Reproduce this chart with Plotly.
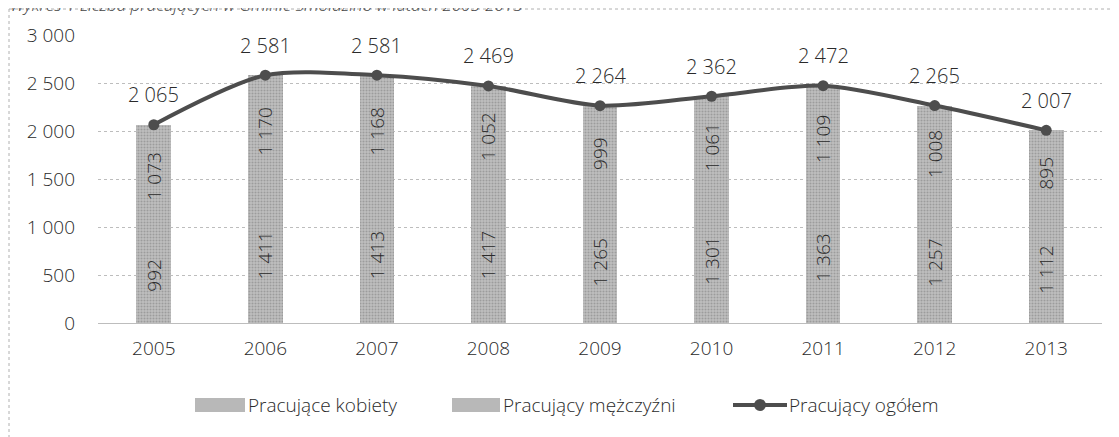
import plotly.graph_objects as go

years = ["2005", "2006", "2007", "2008", "2009", "2010", "2011", "2012", "2013"]
kobiety = [992, 1411, 1413, 1417, 1265, 1301, 1363, 1257, 1112]
mezczyzni = [1073, 1170, 1168, 1052, 999, 1061, 1109, 1008, 895]
ogolem = [2065, 2581, 2581, 2469, 2264, 2362, 2472, 2265, 2007]

series_names = ["Pracujące kobiety", "Pracujący mężczyźni", "Pracujący ogółem"]
title_text = "Wykres 1 Liczba pracujących w Gminie Smołdzino w latach 2005-2013"

FONT = "Open Sans"
TXT = "#2a2a2a"
BAR_BG = "#c0c0c0"
BAR_FG = "#777777"
LINE_C = "#4d4d4d"


def fmt(v):
    return f"{v:,}".replace(",", " ")


# the page body adds an 8px offset; work in page pixels and convert
OFF = 8
PAGE_W, PAGE_H = 1119, 437
W, H = PAGE_W - OFF, PAGE_H - OFF
# plot area in page pixels
PL, PR, PT, PB = 98, 1102, 35, 323
L, R, T, B = PL - OFF, PR - OFF, PT - OFF, PB - OFF


def px(x):
    return (x - PL) / (PR - PL)


def py(y):
    return (PB - y) / (PB - PT)


pattern = dict(shape=".", fgcolor=BAR_FG, bgcolor=BAR_BG, size=3, solidity=0.4)
bar_font = dict(family=FONT, size=19, color=TXT, weight=300)

fig = go.Figure()
fig.add_trace(go.Bar(
    x=years, y=kobiety, name=series_names[0],
    marker=dict(color=BAR_BG, pattern=pattern, line=dict(width=0)),
    text=[fmt(v) for v in kobiety], textposition="inside",
    insidetextanchor="middle", textangle=-90, constraintext="none",
    textfont=bar_font, width=0.31, showlegend=False,
))
fig.add_trace(go.Bar(
    x=years, y=mezczyzni, name=series_names[1],
    marker=dict(color=BAR_BG, pattern=pattern, line=dict(width=0)),
    text=[fmt(v) for v in mezczyzni], textposition="inside",
    insidetextanchor="middle", textangle=-90, constraintext="none",
    textfont=bar_font, width=0.31, showlegend=False,
))
fig.add_trace(go.Scatter(
    x=years, y=ogolem, name=series_names[2], mode="lines+markers",
    line=dict(color=LINE_C, width=4, shape="spline", smoothing=0.8),
    marker=dict(color=LINE_C, size=11),
    showlegend=False,
))

annotations = []
# category axis: annotations are placed by category index
for i, v in enumerate(ogolem):
    annotations.append(dict(
        x=i, y=v, xref="x", yref="y", text=fmt(v), showarrow=False,
        yshift=30, font=dict(family=FONT, size=20, color=TXT, weight=300),
    ))

# title (cut at top edge as in the reference)
annotations.append(dict(
    x=px(OFF), y=py(OFF - 4), xref="paper", yref="paper", xanchor="left",
    yanchor="middle", text=title_text, showarrow=False,
    font=dict(family=FONT, size=17, color="#444", style="italic"),
))

# hand-made legend (page pixels)
shapes = []
leg_y0, leg_y1, leg_yc = 398, 412, 405
for (x0, x1) in [(195, 245), (452, 500)]:
    shapes.append(dict(type="rect", xref="paper", yref="paper",
                       x0=px(x0), x1=px(x1), y0=py(leg_y1), y1=py(leg_y0),
                       fillcolor="#b8b8b8", line=dict(width=0)))
shapes.append(dict(type="line", xref="paper", yref="paper",
                   x0=px(733), x1=px(787), y0=py(leg_yc), y1=py(leg_yc),
                   line=dict(color=LINE_C, width=4)))
shapes.append(dict(type="circle", xref="paper", yref="paper",
                   x0=px(754), x1=px(766), y0=py(leg_yc + 6), y1=py(leg_yc - 6),
                   fillcolor=LINE_C, line=dict(width=0)))
for xt, name in zip([246, 501, 787], series_names):
    annotations.append(dict(
        x=px(xt), y=py(leg_yc), xref="paper", yref="paper", xanchor="left",
        yanchor="middle", text=name, showarrow=False,
        font=dict(family=FONT, size=19, color=TXT, weight=300),
    ))

# dotted frame of the scanned chart
shapes.append(dict(type="line", xref="paper", yref="paper",
                   x0=px(OFF + 1), x1=px(PAGE_W), y0=py(OFF + 1), y1=py(OFF + 1),
                   line=dict(color="#b0b0b0", width=1, dash="dot")))
shapes.append(dict(type="line", xref="paper", yref="paper",
                   x0=px(OFF + 1), x1=px(OFF + 1), y0=py(OFF + 1), y1=py(PAGE_H),
                   line=dict(color="#b0b0b0", width=1, dash="dot")))

fig.update_layout(
    width=W, height=H,
    margin=dict(l=L, r=W - R, t=T, b=H - B, autoexpand=False),
    barmode="stack",
    plot_bgcolor="white", paper_bgcolor="white",
    font=dict(family=FONT, size=19, color=TXT, weight=300),
    annotations=annotations, shapes=shapes,
    showlegend=False,
    separators=", ",
)
fig.update_xaxes(type="category", range=[-0.5, len(years) - 0.5],
                 showgrid=False, showline=False, ticks="",
                 ticklabelstandoff=12,
                 tickfont=dict(family=FONT, size=19, color=TXT, weight=300))
fig.update_yaxes(range=[0, 3000], dtick=500, showgrid=True, gridcolor="#bdbdbd",
                 griddash="dot", gridwidth=1, zeroline=True, zerolinecolor="#bdbdbd",
                 zerolinewidth=1, showline=False, ticks="", separatethousands=True,
                 ticklabelstandoff=22,
                 tickfont=dict(family=FONT, size=19, color=TXT, weight=300))

fig.write_html("out.html")
